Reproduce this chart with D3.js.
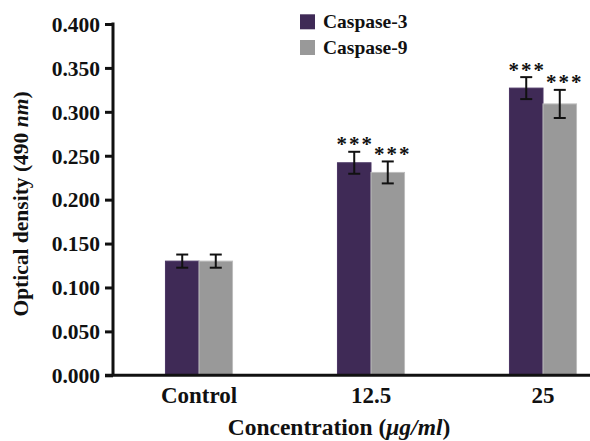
<!DOCTYPE html>
<html><head><meta charset="utf-8">
<script src="https://cdn.jsdelivr.net/npm/d3@7"></script>
<style>body{margin:0;background:#fff}svg{display:block}text{font-family:"Liberation Serif","Times New Roman",serif;font-weight:bold;fill:#111}</style>
</head><body>
<script>
const categories = ["Control", "12.5", "25"];
const seriesNames = ["Caspase-3", "Caspase-9"];
const caspase3 = [0.130, 0.242, 0.327];
const caspase9 = [0.130, 0.231, 0.309];
const caspase3Err = [0.0075, 0.0125, 0.0125];
const caspase9Err = [0.0075, 0.0125, 0.016];
const caspase3Sig = ["", "***", "***"];
const caspase9Sig = ["", "***", "***"];
const yTicks = [0, 0.05, 0.1, 0.15, 0.2, 0.25, 0.3, 0.35, 0.4];
const colors = ["#3f2a56", "#999999"];

const W = 590, H = 441;
const svg = d3.select("body").append("svg").attr("width", W).attr("height", H);
const m = {l:113, t:24, b:375.3};
const y = d3.scaleLinear().domain([0, 0.4]).range([m.b, m.t]);
const x = d3.scaleBand().domain(categories).range([m.l, m.l + 3*172]).paddingInner(0.61).paddingOuter(0.305);
const xs = d3.scaleBand().domain(seriesNames).range([0, x.bandwidth()]);

const data = categories.map((c,i)=>({c, vals:[
  {s:seriesNames[0], v:caspase3[i], e:caspase3Err[i], sig:caspase3Sig[i], col:colors[0], off:0},
  {s:seriesNames[1], v:caspase9[i], e:caspase9Err[i], sig:caspase9Sig[i], col:colors[1], off:4}]}));

const g = svg.selectAll("g.cat").data(data).join("g").attr("transform", d=>`translate(${x(d.c)},0)`);
const b = g.selectAll("g.bar").data(d=>d.vals).join("g");
b.append("rect").attr("x", d=>xs(d.s)).attr("width", xs.bandwidth()).attr("y", d=>y(d.v)).attr("height", d=>y(0)-y(d.v))
  .attr("fill", d=>d.col).attr("stroke", d=>d.s===seriesNames[1]?"#bdbdbd":"#4a3563").attr("stroke-width",1);
b.each(function(d){
  const cx = xs(d.s) + xs.bandwidth()/2, s = d3.select(this);
  const t = y(d.v + d.e), bo = y(d.v - d.e);
  s.append("line").attr("x1",cx).attr("x2",cx).attr("y1",t).attr("y2",bo).attr("stroke","#111").attr("stroke-width",2);
  [t,bo].forEach(yy=>s.append("line").attr("x1",cx-6).attr("x2",cx+6).attr("y1",yy).attr("y2",yy).attr("stroke","#111").attr("stroke-width",2));
  if (d.sig) s.append("text").attr("x",cx+d.off).attr("y",t-0.5).attr("text-anchor","middle").attr("font-size","21px").attr("font-weight","normal").attr("letter-spacing","2px")
    .attr("dx","1px").text(d.sig);
});

// y axis
const ya = svg.append("g").attr("transform",`translate(${m.l},0)`).call(d3.axisLeft(y).tickValues(yTicks).tickFormat(d3.format(".3f")).tickSize(8).tickPadding(5));
ya.select(".domain").attr("stroke","#111").attr("stroke-width",3).attr("d",`M0,${m.t-1.5}V${m.b}`);
ya.selectAll(".tick line").attr("stroke","#111").attr("stroke-width",3);
ya.selectAll(".tick text").attr("font-size","21.5px").attr("font-family",'"Liberation Serif",serif').attr("font-weight","bold").attr("fill","#111").attr("dy","0.34em");
// x axis
const xa = svg.append("g").attr("transform",`translate(0,${m.b})`).call(d3.axisBottom(x).tickSize(0).tickPadding(9));
xa.select(".domain").remove();
svg.append("line").attr("x1",m.l-8).attr("x2",W).attr("y1",m.b).attr("y2",m.b).attr("stroke","#111").attr("stroke-width",3);
xa.selectAll(".tick text").attr("font-size","23px").attr("font-family",'"Liberation Serif",serif').attr("font-weight","bold").attr("fill","#111").attr("dy","0.8em");

// titles
const yt = svg.append("text").attr("transform","translate(28,204) rotate(-90)").attr("text-anchor","middle").attr("font-size","21.5px");
yt.append("tspan").text("Optical density (490 ");
yt.append("tspan").attr("font-style","italic").text("nm");
yt.append("tspan").text(")");
const xt = svg.append("text").attr("x",339).attr("y",435).attr("text-anchor","middle").attr("font-size","23.5px");
xt.append("tspan").text("Concentration (");
xt.append("tspan").attr("font-style","italic").text("μg/ml");
xt.append("tspan").text(")");

// legend
const lg = svg.selectAll("g.leg").data(seriesNames).join("g").attr("transform",(d,i)=>`translate(300,${14.3+i*25.7})`);
lg.append("rect").attr("width",15).attr("height",15).attr("fill",(d,i)=>colors[i]);
lg.append("text").attr("x",23).attr("y",13.5).attr("font-size","19.5px").text(d=>d);
</script>
</body></html>
